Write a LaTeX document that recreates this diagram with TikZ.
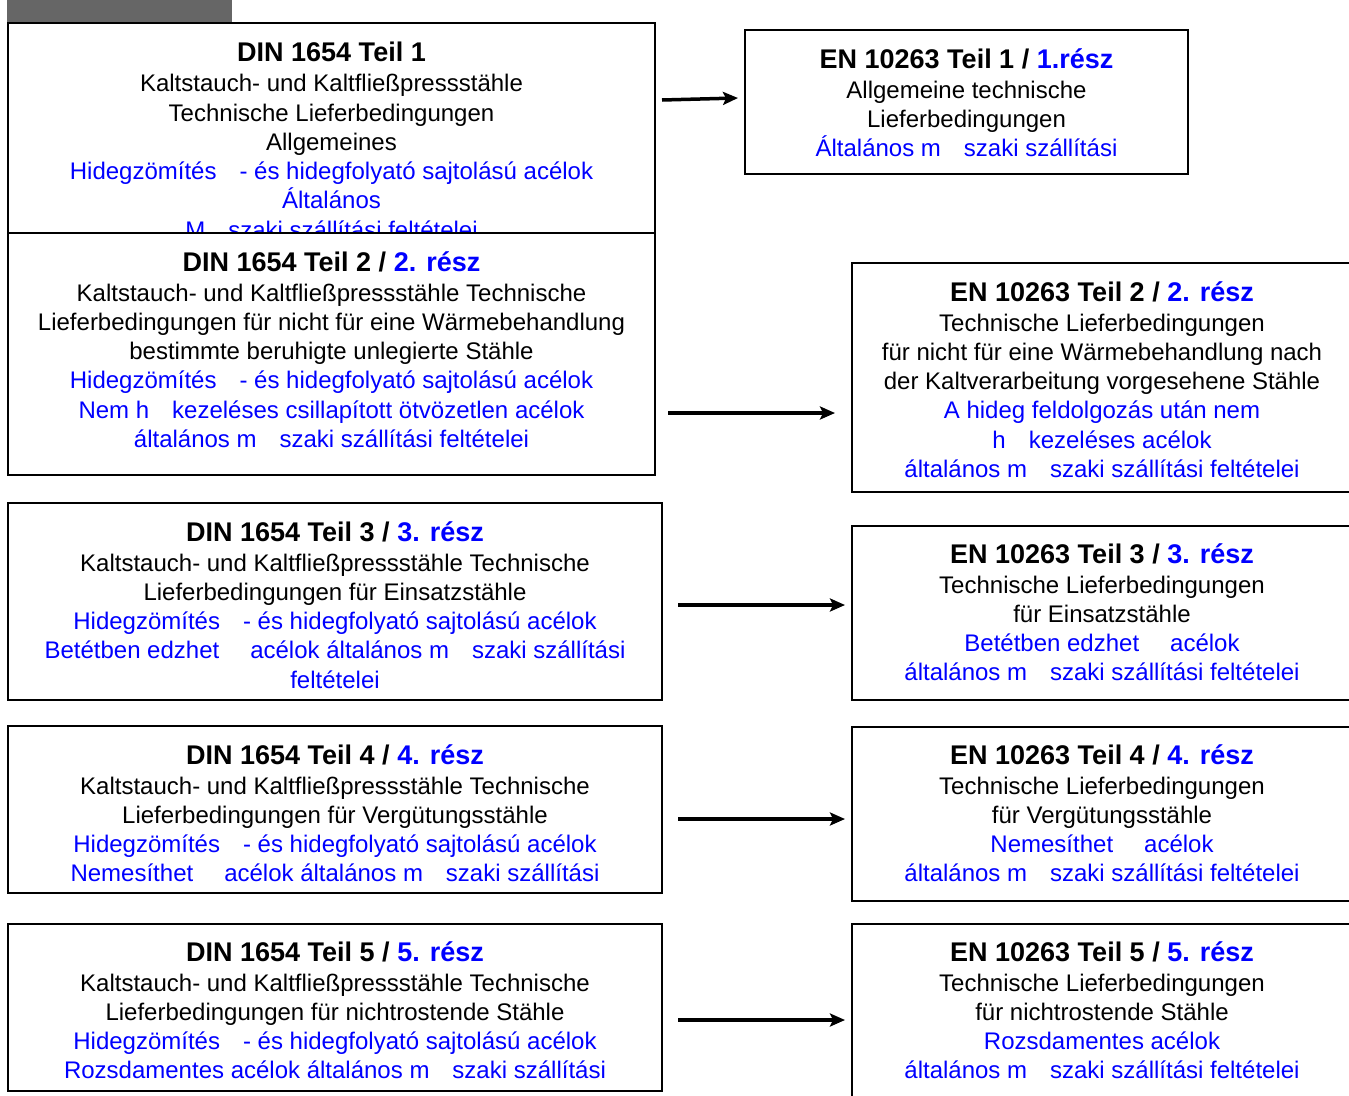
\documentclass[tikz,border=0pt]{standalone}
\usepackage{fontspec}
\setmainfont{Liberation Sans}
\usetikzlibrary{arrows.meta}
\definecolor{hublue}{RGB}{0,0,255}
\definecolor{hdrgray}{RGB}{102,102,102}
\newcommand{\gapa}{\hspace{23pt}}
\newcommand{\gapb}{\hspace{31pt}}
\newcommand{\ttl}[1]{{\fontsize{27}{29.3}\selectfont\bfseries #1}}
\newcommand{\hu}[1]{\textcolor{hublue}{#1}}
\begin{document}
\begin{tikzpicture}[x=1pt,y=-1pt,
 box/.style={draw=black,line width=2pt,fill=white,rectangle,inner sep=0pt},
 txt/.style={anchor=north,align=center,inner sep=0pt,font=\fontsize{24}{29.3}\selectfont},
 arr/.style={line width=3.5pt,-{Stealth[length=15pt,width=13pt,inset=3pt]}}]
\useasboundingbox[fill=white] (0,0) rectangle (1349,1095);
\fill[hdrgray] (7,0) rectangle (232,22);

% DIN 1
\node[box,minimum width=647pt,minimum height=237pt] (d1) at (331.5,141.5) {};
\node[txt] (d1t) at (331.5,42) {\ttl{DIN 1654 Teil 1}\\[0.7pt]
Kaltstauch- und Kaltfließpressstähle\\
Technische Lieferbedingungen\\
Allgemeines\\
\hu{Hidegzömítés\gapa - és hidegfolyató sajtolású acélok}\\
\hu{Általános}\\
\hu{M\gapa szaki szállítási feltételei}};
% DIN 2
\node[box,minimum width=647pt,minimum height=242pt] (d2) at (331.5,354) {};
\node[txt] (d2t) at (331.5,251) {\ttl{DIN 1654 Teil 2 / \hu{2. rész}}\\[0.7pt]
Kaltstauch- und Kaltfließpressstähle Technische\\
Lieferbedingungen für nicht für eine Wärmebehandlung\\
bestimmte beruhigte unlegierte Stähle\\
\hu{Hidegzömítés\gapa - és hidegfolyató sajtolású acélok}\\
\hu{Nem h\gapa kezeléses csillapított ötvözetlen acélok}\\
\hu{általános m\gapa szaki szállítási feltételei}};
% DIN 3
\node[box,minimum width=654pt,minimum height=197pt] (d3) at (335,601.5) {};
\node[txt] (d3t) at (335,521) {\ttl{DIN 1654 Teil 3 / \hu{3. rész}}\\[0.7pt]
Kaltstauch- und Kaltfließpressstähle Technische\\
Lieferbedingungen für Einsatzstähle\\
\hu{Hidegzömítés\gapa - és hidegfolyató sajtolású acélok}\\
\hu{Betétben edzhet\gapb acélok általános m\gapa szaki szállítási}\\
\hu{feltételei}};
% DIN 4
\node[box,minimum width=654pt,minimum height=167pt] (d4) at (335,809.5) {};
\node[txt] (d4t) at (335,744) {\ttl{DIN 1654 Teil 4 / \hu{4. rész}}\\[0.7pt]
Kaltstauch- und Kaltfließpressstähle Technische\\
Lieferbedingungen für Vergütungsstähle\\
\hu{Hidegzömítés\gapa - és hidegfolyató sajtolású acélok}\\
\hu{Nemesíthet\gapb acélok általános m\gapa szaki szállítási}};
% DIN 5
\node[box,minimum width=654pt,minimum height=167pt] (d5) at (335,1007.5) {};
\node[txt] (d5t) at (335,941) {\ttl{DIN 1654 Teil 5 / \hu{5. rész}}\\[0.7pt]
Kaltstauch- und Kaltfließpressstähle Technische\\
Lieferbedingungen für nichtrostende Stähle\\
\hu{Hidegzömítés\gapa - és hidegfolyató sajtolású acélok}\\
\hu{Rozsdamentes acélok általános m\gapa szaki szállítási}};

% EN 1
\node[box,minimum width=443pt,minimum height=144pt] (e1) at (966.5,102) {};
\node[txt] (e1t) at (966.5,48) {\ttl{EN 10263 Teil 1 / \hu{1.rész}}\\[0.7pt]
Allgemeine technische\\
Lieferbedingungen\\
\hu{Általános m\gapa szaki szállítási}};
% EN 2
\node[box,minimum width=500pt,minimum height=229pt] (e2) at (1102,377.5) {};
\node[txt] (e2t) at (1102,281) {\ttl{EN 10263 Teil 2 / \hu{2. rész}}\\[0.7pt]
Technische Lieferbedingungen\\
für nicht für eine Wärmebehandlung nach\\
der Kaltverarbeitung vorgesehene Stähle\\
\hu{A hideg feldolgozás után nem}\\
\hu{h\gapa kezeléses acélok}\\
\hu{általános m\gapa szaki szállítási feltételei}};
% EN 3
\node[box,minimum width=500pt,minimum height=174pt] (e3) at (1102,613) {};
\node[txt] (e3t) at (1102,543) {\ttl{EN 10263 Teil 3 / \hu{3. rész}}\\[0.7pt]
Technische Lieferbedingungen\\
für Einsatzstähle\\
\hu{Betétben edzhet\gapb acélok}\\
\hu{általános m\gapa szaki szállítási feltételei}};
% EN 4
\node[box,minimum width=500pt,minimum height=174pt] (e4) at (1102,814) {};
\node[txt] (e4t) at (1102,744) {\ttl{EN 10263 Teil 4 / \hu{4. rész}}\\[0.7pt]
Technische Lieferbedingungen\\
für Vergütungsstähle\\
\hu{Nemesíthet\gapb acélok}\\
\hu{általános m\gapa szaki szállítási feltételei}};
% EN 5
\node[box,minimum width=500pt,minimum height=186pt] (e5) at (1102,1017) {};
\node[txt] (e5t) at (1102,941) {\ttl{EN 10263 Teil 5 / \hu{5. rész}}\\[0.7pt]
Technische Lieferbedingungen\\
für nichtrostende Stähle\\
\hu{Rozsdamentes acélok}\\
\hu{általános m\gapa szaki szállítási feltételei}};

% arrows
\coordinate (a1s) at (662,100); \coordinate (a1e) at (738,98);
\coordinate (a2s) at (668,413); \coordinate (a2e) at (835,413);
\coordinate (a3s) at (678,605); \coordinate (a3e) at (845,605);
\coordinate (a4s) at (678,819); \coordinate (a4e) at (845,819);
\coordinate (a5s) at (678,1020); \coordinate (a5e) at (845,1020);
\draw[arr] (a1s) -- (a1e);
\draw[arr] (a2s) -- (a2e);
\draw[arr] (a3s) -- (a3e);
\draw[arr] (a4s) -- (a4e);
\draw[arr] (a5s) -- (a5e);
\end{tikzpicture}
\end{document}
